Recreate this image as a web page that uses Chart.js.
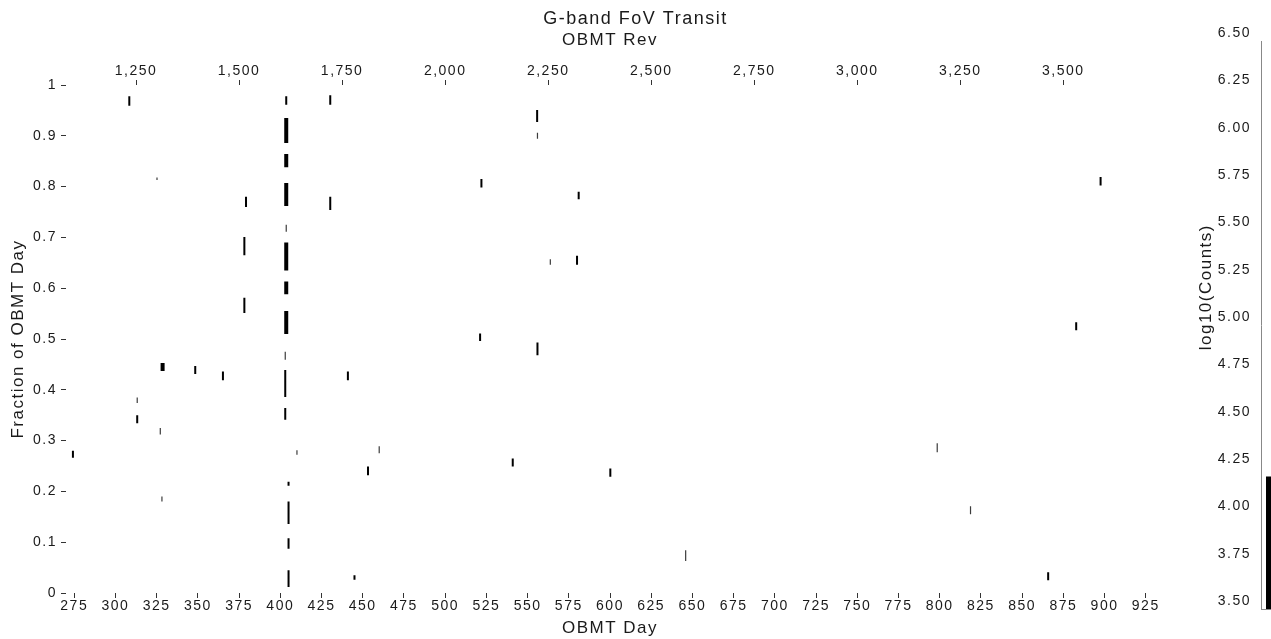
<!DOCTYPE html>
<html>
<head>
<meta charset="utf-8">
<script src="https://cdn.jsdelivr.net/npm/chart.js@4.4.1/dist/chart.umd.min.js"></script>
<style>
  body { margin: 0; overflow: hidden; background: #fff; }
  #transitChart { position: absolute; left: 0; top: 0; }
  #countsBar { position: absolute; left: 1150px; top: 0; }
</style>
</head>
<body>
<canvas id="transitChart" width="1271" height="639"></canvas>
<canvas id="countsBar" width="131" height="639"></canvas>
<script>
// transits: OBMT day, fraction-of-day span, and weight (0 faint, 1 normal, 2 heavy)
const markDay = [274.2, 308.4, 313.2, 313.2, 325.2, 327.2, 328.2, 328.6, 348.4, 365.2, 378.2, 378.2, 379.2,
	403.6, 403.6, 403.6, 403.6, 403.6, 403.6, 403.6, 403.6, 403.0, 403.0, 403.0,
	405.0, 405.0, 405.0, 405.0, 410.1, 430.3, 430.3, 441.0, 445.0, 453.2, 460.0,
	521.2, 522.0, 541.0, 555.8, 556.0, 556.0, 563.8, 580.0, 581.0, 600.2, 645.9,
	798.5, 818.7, 865.8, 882.8, 897.6];
const markLow = [0.266, 0.959, 0.374, 0.334, 0.813, 0.312, 0.180, 0.437, 0.431, 0.419, 0.551, 0.665, 0.760,
	0.961, 0.886, 0.838, 0.762, 0.711, 0.635, 0.588, 0.510, 0.459, 0.386, 0.341,
	0.211, 0.136, 0.087, 0.012, 0.272, 0.961, 0.754, 0.419, 0.026, 0.232, 0.275,
	0.496, 0.798, 0.249, 0.927, 0.894, 0.468, 0.646, 0.646, 0.775, 0.229, 0.063,
	0.277, 0.155, 0.025, 0.517, 0.802];
const markHigh = [0.280, 0.978, 0.385, 0.350, 0.818, 0.325, 0.190, 0.453, 0.447, 0.436, 0.581, 0.701, 0.780,
	0.978, 0.935, 0.864, 0.807, 0.725, 0.690, 0.613, 0.555, 0.475, 0.439, 0.364,
	0.219, 0.180, 0.108, 0.045, 0.281, 0.980, 0.780, 0.436, 0.035, 0.249, 0.289,
	0.511, 0.815, 0.265, 0.951, 0.906, 0.493, 0.657, 0.664, 0.790, 0.245, 0.084,
	0.295, 0.171, 0.041, 0.533, 0.819];
const markWeight = [1, 1, 0, 1, 0, 0, 0, 2, 1, 1, 1, 1, 1,
	1, 2, 2, 2, 0, 2, 2, 2, 0, 1, 1,
	1, 1, 1, 1, 0, 1, 1, 1, 1, 1, 0,
	1, 1, 1, 1, 0, 1, 0, 1, 1, 1, 0,
	0, 0, 1, 1, 1];

const dayMin = 270;
const dayMax = 930;
const revPerDay = 4;
const countsMin = 3.5;
const countsMax = 6.5;
const countsBar = [3.5, 4.2];

const textColor = '#1a1a1a';
Chart.defaults.font.family = "'Liberation Sans', Arial, sans-serif";
Chart.defaults.color = textColor;

// the original text is spaced out a bit
const spacing = {
	id: 'spacing',
	beforeUpdate: (chart) => { chart.ctx.letterSpacing = '1.5px'; },
	beforeDraw: (chart) => { chart.ctx.letterSpacing = '1.5px'; },
};

const weightStyle = [
	{ width: 1.2, color: '#3c3c3c' },
	{ width: 2, color: '#000' },
	{ width: 4, color: '#000' },
];

const buildDatasets = () => {
	return weightStyle.map((style, w) => {
		const points = [];
		markDay.map((day, i) => {
			if (markWeight[i] !== w) return;
			points.push({ x: day, y: markLow[i] });
			points.push({ x: day, y: markHigh[i] });
			points.push({ x: day, y: null });
		});
		return {
			data: points,
			borderColor: style.color,
			borderWidth: style.width,
			borderCapStyle: 'butt',
			pointRadius: 0,
			spanGaps: false,
			tension: 0,
		};
	});
};

const tickGrid = (len) => ({ drawOnChartArea: false, tickLength: len, color: '#333', lineWidth: 1 });

new Chart(document.getElementById('transitChart'), {
	type: 'line',
	data: { datasets: buildDatasets() },
	options: {
		responsive: false,
		animation: false,
		layout: { padding: 0 },
		plugins: {
			legend: { display: false },
			tooltip: { enabled: false },
			title: {
				display: true,
				text: 'G-band FoV Transit',
				font: { size: 18, weight: 'normal' },
				color: textColor,
				padding: { top: 8, bottom: 0 },
			},
		},
		scales: {
			x: {
				type: 'linear',
				position: 'bottom',
				min: dayMin,
				max: dayMax,
				afterFit: (s) => { s.height = 46; },
				grid: tickGrid(5),
				border: { display: false },
				ticks: { stepSize: 25, includeBounds: false, padding: 0, font: { size: 14 }, maxRotation: 0, autoSkip: false },
				title: { display: true, text: 'OBMT Day', font: { size: 17 }, padding: { top: 4, bottom: 0 } },
			},
			x2: {
				type: 'linear',
				position: 'top',
				min: dayMin * revPerDay,
				max: dayMax * revPerDay,
				afterFit: (s) => { s.height = 55.4; },
				grid: tickGrid(5),
				border: { display: false },
				ticks: {
					stepSize: 250,
					includeBounds: false,
					padding: 0,
					font: { size: 14 },
					maxRotation: 0,
					autoSkip: false,
					callback: (v) => v.toLocaleString('en-US'),
				},
				title: { display: true, text: 'OBMT Rev', font: { size: 17 }, padding: { top: 1, bottom: 12 } },
			},
			y: {
				min: 0,
				max: 1,
				afterFit: (s) => { s.width = 66; },
				grid: tickGrid(5),
				border: { display: false },
				ticks: { stepSize: 0.1, padding: 4, font: { size: 14 }, callback: (v) => String(+v.toFixed(1)) },
				title: { display: true, text: 'Fraction of OBMT Day', font: { size: 17 }, padding: { top: 8, bottom: 0 } },
			},
			// empty space on the right, kept for the colour bar
			spare: {
				position: 'right',
				afterFit: (s) => { s.width = 117; },
				grid: { display: false, drawTicks: false },
				ticks: { display: false },
				border: { display: false },
			},
		},
	},
	plugins: [spacing],
});

//Colour bar title sits above the middle of the bar axis
const countsTitle = {
	id: 'countsTitle',
	afterDraw: (chart) => {
		const ctx = chart.ctx;
		const yScale = chart.scales.y;
		ctx.save();
		ctx.translate(yScale.left + 56, yScale.getPixelForValue(5.2));
		ctx.rotate(-Math.PI / 2);
		ctx.font = "17px 'Liberation Sans', Arial, sans-serif";
		ctx.fillStyle = textColor;
		ctx.textAlign = 'center';
		ctx.textBaseline = 'middle';
		ctx.fillText('log10(Counts)', 0, 0);
		ctx.restore();
	},
};

new Chart(document.getElementById('countsBar'), {
	type: 'bar',
	data: {
		labels: [''],
		datasets: [{ data: [countsBar], backgroundColor: '#000', barPercentage: 0.5, categoryPercentage: 1 }],
	},
	options: {
		responsive: false,
		animation: false,
		layout: { padding: { left: 0, right: 0, top: 41, bottom: 0 } },
		plugins: { legend: { display: false }, tooltip: { enabled: false } },
		scales: {
			x: {
				afterFit: (s) => { s.height = 30; },
				grid: { display: false, drawTicks: false },
				ticks: { display: false },
				border: { display: true, color: '#888' },
			},
			y: {
				min: countsMin,
				max: countsMax,
				afterFit: (s) => { s.width = 111; },
				grid: { display: false, drawTicks: false },
				border: { display: true, color: '#888' },
				ticks: { stepSize: 0.25, padding: 10, labelOffset: -8, font: { size: 14 }, callback: (v) => v.toFixed(2) },
			},
		},
	},
	plugins: [spacing, countsTitle],
});
</script>
</body>
</html>
